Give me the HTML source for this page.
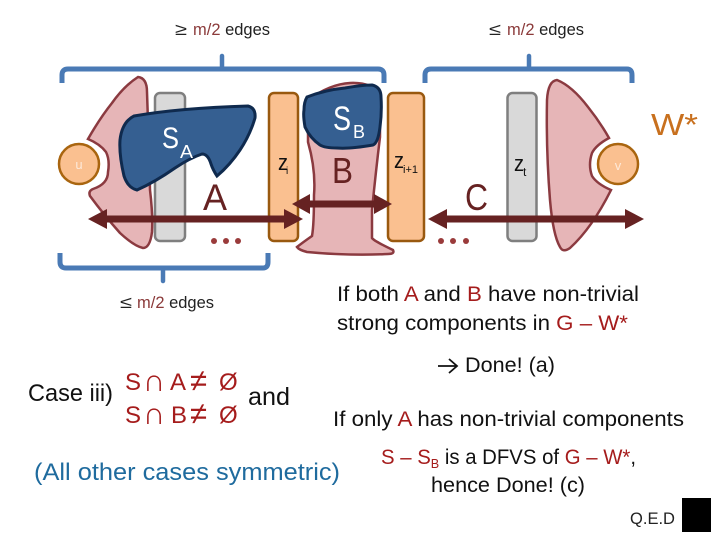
<!DOCTYPE html>
<html><head><meta charset="utf-8"><style>
html,body{margin:0;padding:0;background:#fff;width:720px;height:540px;overflow:hidden}
svg{display:block}
text{font-family:"Liberation Sans",sans-serif}
.r{fill:#a51c1c}
</style></head><body>
<svg width="720" height="540" viewBox="0 0 720 540" xmlns="http://www.w3.org/2000/svg">
<g fill="none" stroke="#4a7ab5" stroke-width="5">
<path d="M62 83V75Q62 69 68 69H378Q384 69 384 75V83"/>
<path d="M425 83V75Q425 69 431 69H627Q632 69 632 75V83"/>
<path d="M60 253V262Q60 268 66 268H263Q268 268 268 262V253"/>
<path d="M222 68V56M529 68V56M163 269V281" stroke-width="4.500" stroke-linecap="round"/>
</g>
<!-- left pink -->
<path d="M138 77Q147 78 147 92Q149 150 150 190Q153 215 152 232Q150 248 143 248Q134 246 120 233Q104 215 90 196Q88 191 93 189Q108 184 108 172Q110 160 106 152Q100 144 88 139Q100 118 112 103Q124 86 138 77Z" fill="#e6b5b7" stroke="#8b3a40" stroke-width="2.500"/>
<!-- right pink -->
<path d="M557 80Q548 81 547 100Q546 150 550 200Q553 235 560 247Q563 253 570 248Q592 228 611 190Q597 184 592 176Q588 165 592 153Q596 145 609 138Q600 122 588 107Q572 86 557 80Z" fill="#e6b5b7" stroke="#8b3a40" stroke-width="2.500"/>
<!-- Z rects -->
<rect x="155" y="93" width="30" height="148" rx="5" fill="#d9d9d9" stroke="#7f7f7f" stroke-width="2.500"/>
<rect x="507.500" y="93" width="29" height="148" rx="5" fill="#d9d9d9" stroke="#7f7f7f" stroke-width="2.500"/>
<rect x="269" y="93" width="29" height="148" rx="5" fill="#fac090" stroke="#99590f" stroke-width="2.500"/>
<rect x="388" y="93" width="36" height="148" rx="5" fill="#fac090" stroke="#99590f" stroke-width="2.500"/>
<!-- circles -->
<circle cx="79" cy="164" r="20" fill="#fac090" stroke="#a9650f" stroke-width="2.500"/>
<circle cx="618" cy="164" r="20" fill="#fac090" stroke="#a9650f" stroke-width="2.500"/>
<text x="79" y="169" font-size="13" text-anchor="middle" fill="#fde9d9">u</text>
<text x="618" y="170" font-size="13" text-anchor="middle" fill="#fde9d9">v</text>
<!-- B pink -->
<path d="M308 100Q330 84 350 83Q372 82 380 95L380 137Q376 170 372 210L372 238Q374 241 393 250Q395 254 388 254Q350 256 307 252Q299 250 297 247Q302 243 312 236Q314 225 314 195Q316 170 308 142Z" fill="#e6b5b7" stroke="#8b3a40" stroke-width="2.500"/>
<!-- SA -->
<path d="M120 140Q122 122 134 116Q180 108 248 106Q256 108 255 118Q250 135 240 150Q230 165 217 176Q213 170 211 164Q208 154 202 154Q190 158 175 168Q155 182 137 190Q128 188 124 176Q119 155 120 140Z" fill="#355f91" stroke="#0f2a4e" stroke-width="3"/>
<!-- SB -->
<path d="M307 97Q325 90 345 88Q362 85 372 85Q381 87 381 97Q382 112 380 127Q378 143 373 145Q350 149 337 148Q325 148 320 145Q310 138 305 127Q303 115 304 110Q304 102 307 97Z" fill="#355f91" stroke="#0f2a4e" stroke-width="3"/>
<!-- arrows -->
<g fill="#662222">
<path d="M88 219L107 209V215.500H284V209L303 219L284 229V222.500H107V229Z"/>
<path d="M292 204L310 194V200.500H374V194L392 204L374 214V207.500H310V214Z"/>
<path d="M428 219L447 209V215.500H625V209L644 219L625 229V222.500H447V229Z"/>
</g>
<g fill="#9a3b3b">
<circle cx="214" cy="241" r="3"/><circle cx="226" cy="241" r="3"/><circle cx="238" cy="241" r="3"/>
<circle cx="441" cy="241" r="3"/><circle cx="453" cy="241" r="3"/><circle cx="466" cy="241" r="3"/>
</g>
<!-- edge labels -->
<text x="175" y="35" font-size="17" textLength="12" lengthAdjust="spacingAndGlyphs" fill="#222">≥</text>
<text x="193" y="35" font-size="17" textLength="77" lengthAdjust="spacingAndGlyphs" fill="#222"><tspan fill="#8b3a3a">m/2</tspan> edges</text>
<text x="489" y="35" font-size="17" textLength="12" lengthAdjust="spacingAndGlyphs" fill="#222">≤</text>
<text x="507" y="35" font-size="17" textLength="77" lengthAdjust="spacingAndGlyphs" fill="#222"><tspan fill="#8b3a3a">m/2</tspan> edges</text>
<text x="120" y="308" font-size="17" textLength="12" lengthAdjust="spacingAndGlyphs" fill="#222">≤</text>
<text x="137" y="308" font-size="17" textLength="77" lengthAdjust="spacingAndGlyphs" fill="#222"><tspan fill="#8b3a3a">m/2</tspan> edges</text>
<!-- node labels -->
<text x="162" y="148" font-size="30" textLength="17" lengthAdjust="spacingAndGlyphs" fill="#fff">S</text>
<text x="180" y="158" font-size="18" textLength="13" lengthAdjust="spacingAndGlyphs" fill="#fff">A</text>
<text x="333" y="130" font-size="34" textLength="18" lengthAdjust="spacingAndGlyphs" fill="#fff">S</text>
<text x="353" y="138" font-size="18" textLength="12" lengthAdjust="spacingAndGlyphs" fill="#fff">B</text>
<text x="203" y="210" font-size="37" textLength="24" lengthAdjust="spacingAndGlyphs" fill="#662222">A</text>
<text x="332" y="183" font-size="36" textLength="21" lengthAdjust="spacingAndGlyphs" fill="#662222">B</text>
<text x="465" y="210" font-size="37" textLength="23" lengthAdjust="spacingAndGlyphs" fill="#662222">C</text>
<text x="651" y="135" font-size="31" textLength="47" lengthAdjust="spacingAndGlyphs" fill="#c8701e">W*</text>
<text x="278" y="170" font-size="22" textLength="10" lengthAdjust="spacingAndGlyphs" fill="#111">z</text><text x="286" y="174" font-size="10" fill="#111">i</text>
<text x="394" y="168" font-size="22" textLength="10" lengthAdjust="spacingAndGlyphs" fill="#111">z</text><text x="403" y="173" font-size="11" textLength="15" lengthAdjust="spacingAndGlyphs" fill="#111">i+1</text>
<text x="514" y="171" font-size="22" textLength="10" lengthAdjust="spacingAndGlyphs" fill="#111">z</text><text x="523" y="176" font-size="12" fill="#111">t</text>
<!-- body text -->
<text x="337" y="301" font-size="21" textLength="302" lengthAdjust="spacingAndGlyphs" fill="#111">If both <tspan class="r">A</tspan> and <tspan class="r">B</tspan> have non-trivial</text>
<text x="337" y="330" font-size="21" textLength="291" lengthAdjust="spacingAndGlyphs" fill="#111">strong components in <tspan class="r">G – W*</tspan></text>
<path d="M438 366H456M449 359L457 366L449 373" fill="none" stroke="#111" stroke-width="1.800"/>
<text x="465" y="372" font-size="21" textLength="90" lengthAdjust="spacingAndGlyphs" fill="#111">Done! (a)</text>
<text x="333" y="426" font-size="21" textLength="351" lengthAdjust="spacingAndGlyphs" fill="#111">If only <tspan class="r">A</tspan> has non-trivial components</text>
<text x="381" y="464" font-size="21" textLength="255" lengthAdjust="spacingAndGlyphs" fill="#111"><tspan class="r">S – S<tspan font-size="13" dy="4">B</tspan></tspan><tspan dy="-4"> is a DFVS of </tspan><tspan class="r">G – W*</tspan>,</text>
<text x="431" y="492" font-size="21" textLength="154" lengthAdjust="spacingAndGlyphs" fill="#111">hence Done! (c)</text>
<text x="630" y="524" font-size="16.500" textLength="45" lengthAdjust="spacingAndGlyphs" fill="#222">Q.E.D</text>
<rect x="682" y="498" width="29" height="34" fill="#000"/>
<text x="28" y="401" font-size="24" textLength="85" lengthAdjust="spacingAndGlyphs" fill="#111">Case iii)</text>
<g fill="#a51c1c" font-size="24">
<text x="125" y="390">S</text><text x="143" y="391" font-size="31">∩</text><text x="170" y="390">A</text><text x="190" y="391" font-size="31">≠</text><text x="219" y="390">Ø</text>
<text x="125" y="423">S</text><text x="143" y="424" font-size="31">∩</text><text x="171" y="423">B</text><text x="190" y="424" font-size="31">≠</text><text x="219" y="423">Ø</text>
</g>
<text x="248" y="405" font-size="25" textLength="42" lengthAdjust="spacingAndGlyphs" fill="#111">and</text>
<text x="34" y="480" font-size="24" textLength="306" lengthAdjust="spacingAndGlyphs" fill="#1f6b9e">(All other cases symmetric)</text>
</svg>
</body></html>
